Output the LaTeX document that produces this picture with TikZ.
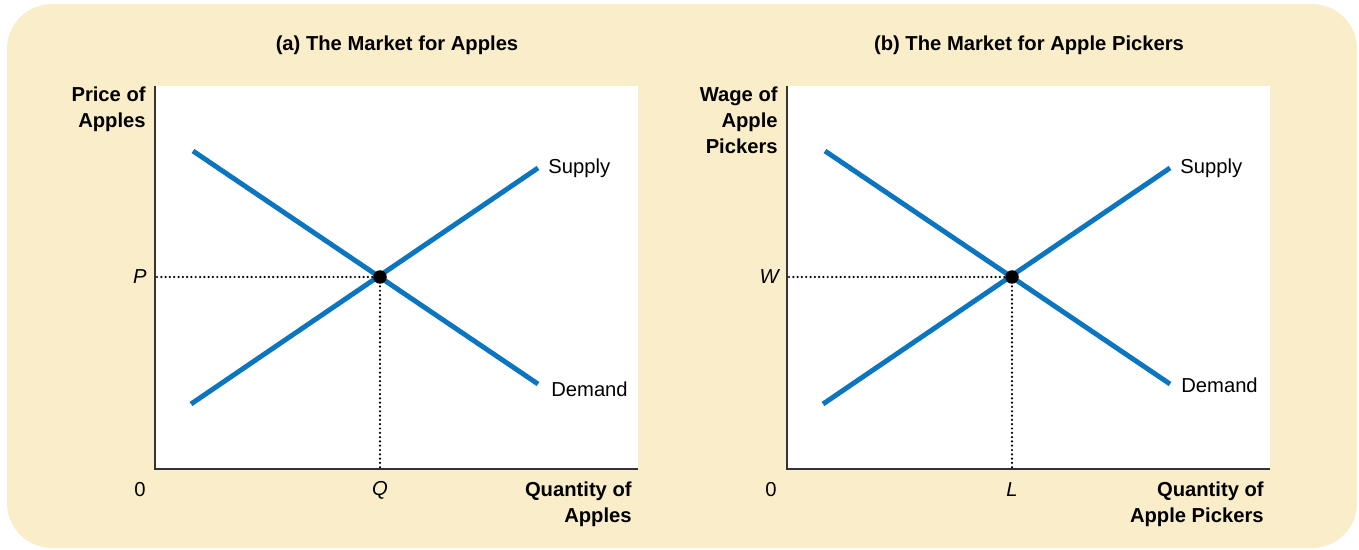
\documentclass[tikz,border=0pt]{standalone}
\usepackage{fontspec}
\setmainfont{Liberation Sans}
\usetikzlibrary{positioning}
\definecolor{panelbeige}{HTML}{FAEDC9}
\definecolor{curveblue}{HTML}{0B76BF}
\definecolor{axisgray}{HTML}{333333}

\begin{document}
\begin{tikzpicture}[
  x=0.02cm, y=-0.02cm,
  font=\fontsize{11.5}{14.8}\selectfont,
  curve/.style={draw=curveblue, line width=2.8pt},
  axisline/.style={draw=axisgray, line width=0.9pt},
  guide/.style={draw=black, line width=1.4pt, line cap=round, dash pattern=on 0pt off 2.45pt},
  eqdot/.style={circle, fill=black, inner sep=0pt, minimum size=0.27cm},
  title/.style={font=\fontsize{11.5}{14.8}\selectfont\bfseries, inner sep=0pt},
  axlabel/.style={font=\fontsize{11.5}{14.8}\selectfont\bfseries, align=right, inner sep=0pt, anchor=north east},
  curvelabel/.style={anchor=west, inner sep=0pt},
  ticklabel/.style={inner sep=0pt}
]
  \useasboundingbox (0,0) rectangle (1359,550);
  \fill[panelbeige, rounded corners=0.9cm] (7,4) rectangle (1357,548);

  % (a) apples
  \fill[white] (155,86) rectangle (638,469);
  \node[title] (titleA) at (397,45) {(a) The Market for Apples};
  \coordinate (topA) at (155,86);
  \coordinate (originA) at (155,469);
  \coordinate (endA) at (638,469);
  \draw[axisline] (topA) -- (originA) -- (endA);
  \coordinate (demA1) at (193,151);
  \coordinate (demA2) at (538,384);
  \coordinate (supA1) at (191,404);
  \coordinate (supA2) at (538,168);
  \draw[curve] (demA1) -- (demA2);
  \draw[curve] (supA1) -- (supA2);
  \coordinate (eqPointA) at (380,277);
  \coordinate (pA) at (157,277);
  \coordinate (qA) at (380,468);
  \draw[guide] (pA) -- (eqPointA) -- (qA);
  \node[eqdot] (eqA) at (eqPointA) {};
  \node[curvelabel] (supLabelA) at (548,168) {Supply};
  \node[curvelabel] (demLabelA) at (551,389) {Demand};
  \node[ticklabel, anchor=east] (priceA) at (147,277) {\itshape P};
  \node[ticklabel] (quantA) at (380,490) {\itshape Q};
  \node[ticklabel] (zeroA) at (140,490) {0};
  \node[axlabel] (yLabelA) at (146,87) {Price of\\Apples};
  \node[axlabel] (xLabelA) at (632,482) {Quantity of\\Apples};

  % (b) apple pickers
  \fill[white] (787,86) rectangle (1270,469);
  \node[title] (titleB) at (1029,45) {(b) The Market for Apple Pickers};
  \coordinate (topB) at (787,86);
  \coordinate (originB) at (787,469);
  \coordinate (endB) at (1270,469);
  \draw[axisline] (topB) -- (originB) -- (endB);
  \coordinate (demB1) at (825,151);
  \coordinate (demB2) at (1170,384);
  \coordinate (supB1) at (823,404);
  \coordinate (supB2) at (1170,168);
  \draw[curve] (demB1) -- (demB2);
  \draw[curve] (supB1) -- (supB2);
  \coordinate (eqPointB) at (1012,277);
  \coordinate (wB) at (789,277);
  \coordinate (lB) at (1012,468);
  \draw[guide] (wB) -- (eqPointB) -- (lB);
  \node[eqdot] (eqB) at (eqPointB) {};
  \node[curvelabel] (supLabelB) at (1180,168) {Supply};
  \node[curvelabel] (demLabelB) at (1181,385) {Demand};
  \node[ticklabel, anchor=east] (wageB) at (779,277) {\itshape W};
  \node[ticklabel] (laborB) at (1012,490) {\itshape L};
  \node[ticklabel] (zeroB) at (771,490) {0};
  \node[axlabel] (yLabelB) at (778,87) {Wage of\\Apple\\Pickers};
  \node[axlabel] (xLabelB) at (1264,482) {Quantity of\\Apple Pickers};
\end{tikzpicture}
\end{document}
